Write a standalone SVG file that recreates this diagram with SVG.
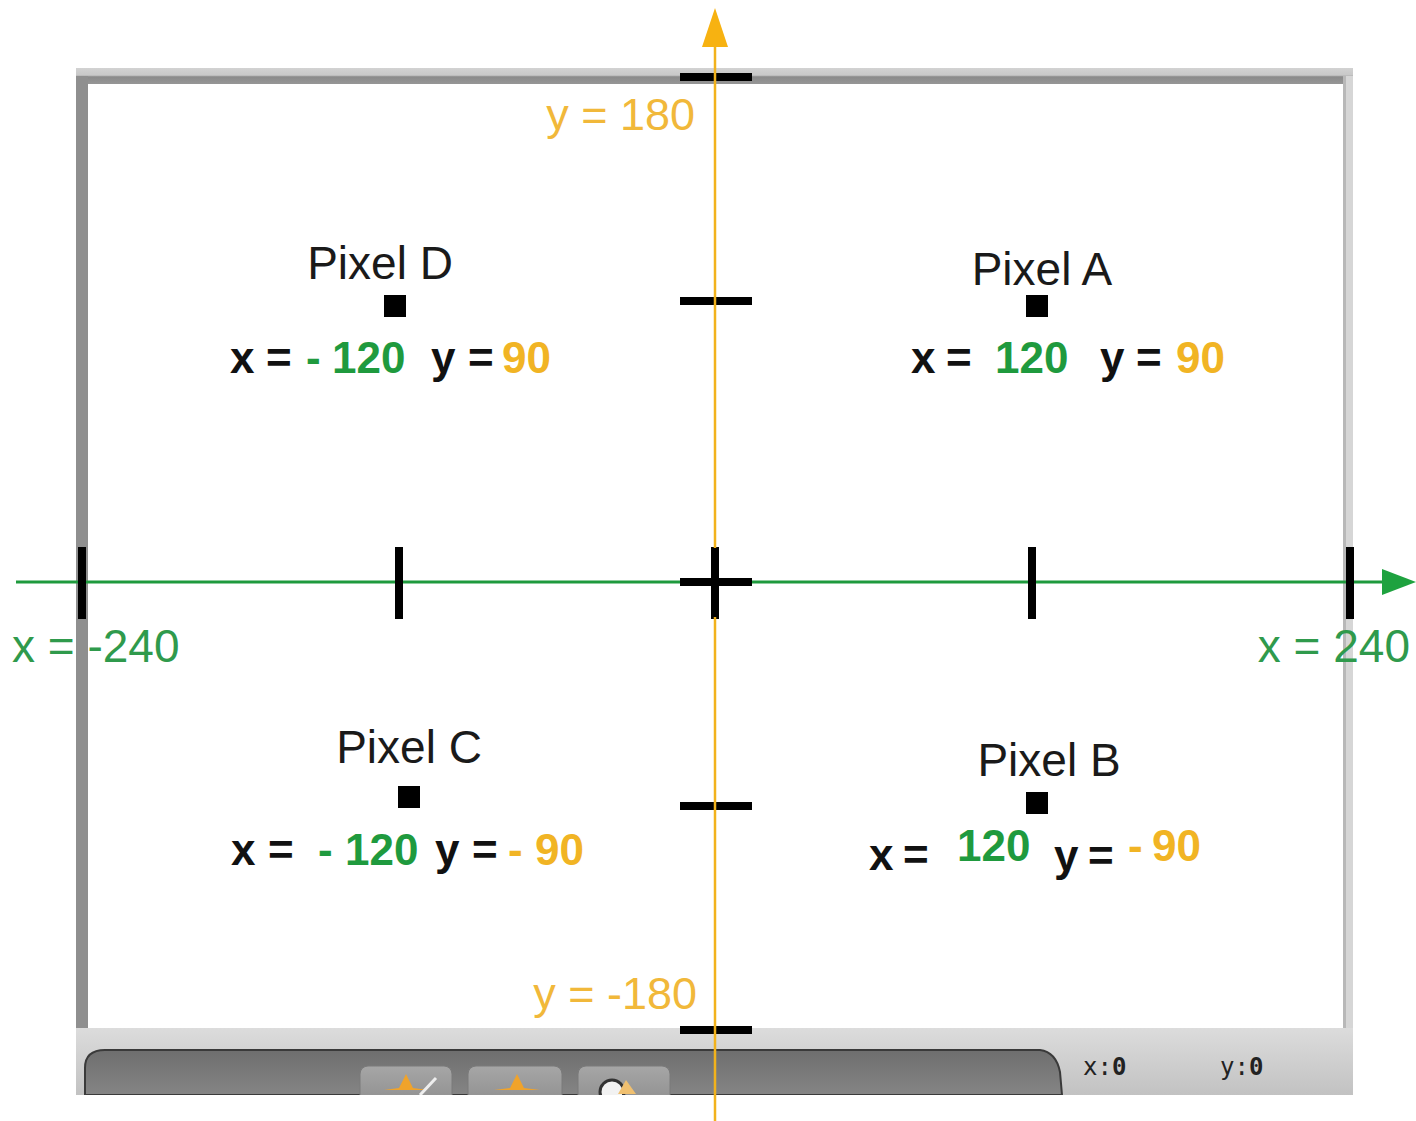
<svg xmlns="http://www.w3.org/2000/svg" width="1416" height="1121" viewBox="0 0 1416 1121">
<style>
.lbl{font-family:"Liberation Sans",Arial,sans-serif;font-size:46px;fill:#1a1a1a}
.bold{font-family:"Liberation Sans",Arial,sans-serif;font-size:44px;font-weight:bold;fill:#111}
.g{fill:#1f9a3e}
.o{fill:#f1b424}
.axg{font-family:"Liberation Sans",Arial,sans-serif;font-size:46px;fill:#2f9a4c}
.axo{font-family:"Liberation Sans",Arial,sans-serif;font-size:45px;fill:#f1b83a}
.tick{stroke:#000;stroke-width:8;fill:none}
.px{fill:#000}
.coord{font-family:"DejaVu Sans Mono",monospace;font-size:24px;fill:#222}
</style>
<defs>
<linearGradient id="topbar" x1="0" y1="0" x2="0" y2="1">
<stop offset="0" stop-color="#d2d2d2"/><stop offset="0.45" stop-color="#c8c8c8"/><stop offset="0.55" stop-color="#8a8a8a"/><stop offset="1" stop-color="#969696"/>
</linearGradient>
<linearGradient id="botbar" x1="0" y1="0" x2="0" y2="1">
<stop offset="0" stop-color="#dcdcdc"/><stop offset="1" stop-color="#c2c2c2"/>
</linearGradient>
<linearGradient id="panel" x1="0" y1="0" x2="0" y2="1">
<stop offset="0" stop-color="#6e6e6e"/><stop offset="1" stop-color="#858585"/>
</linearGradient>
<linearGradient id="btn" x1="0" y1="0" x2="0" y2="1">
<stop offset="0" stop-color="#a6a6a6"/><stop offset="1" stop-color="#8e8e8e"/>
</linearGradient>
</defs>
<rect width="1416" height="1121" fill="#fff"/>

<g id="stage">
<rect x="76" y="68" width="1277" height="1027" fill="#fff"/>
<rect x="76" y="68" width="1277" height="16" fill="url(#topbar)"/>
<rect x="76" y="76" width="12" height="960" fill="#8f8f8f"/>
<rect x="1343" y="76" width="10" height="960" fill="#d6d6d6"/>
<rect x="1343" y="76" width="3" height="960" fill="#b8b8b8"/>
<rect x="76" y="1028" width="1277" height="67" fill="url(#botbar)"/>
<path d="M85 1095 L85 1068 Q85 1050 105 1050 L1040 1050 Q1056 1052 1060 1072 L1062 1095 Z" fill="url(#panel)" stroke="#3a3a3a" stroke-width="2"/>
<g id="buttons">
<rect x="360" y="1066" width="92" height="40" rx="8" fill="url(#btn)" stroke="#7a7a7a"/>
<rect x="468" y="1066" width="94" height="40" rx="8" fill="url(#btn)" stroke="#7a7a7a"/>
<rect x="578" y="1066" width="92" height="40" rx="8" fill="url(#btn)" stroke="#7a7a7a"/>
<path d="M406 1074 L413 1088 L428 1090 L384 1090 L399 1088 Z" fill="#f0a32a"/>
<path d="M420 1095 L436 1078" stroke="#eeeeee" stroke-width="3"/>
<path d="M517 1074 L524 1088 L540 1090 L494 1090 L510 1088 Z" fill="#f0a32a"/>
<circle cx="612" cy="1092" r="12" fill="#f2f2f2" stroke="#333" stroke-width="3"/>
<path d="M626 1080 L636 1094 L618 1094 Z" fill="#f0c070"/>
</g>
<text class="coord" x="1083" y="1075">x:<tspan font-weight="bold">0</tspan></text>
<text class="coord" x="1220" y="1075">y:<tspan font-weight="bold">0</tspan></text>
<rect x="0" y="1095" width="1416" height="26" fill="#fff"/>
</g>

<g id="connectors">
<g id="x-axis">
<line x1="16" y1="582" x2="1386" y2="582" stroke="#1e9a3d" stroke-width="3"/>
<path d="M1382 569 L1416 582 L1382 595 Z" fill="#1ea23f"/>
</g>
<g id="ticks">
<line class="tick" x1="82" y1="547" x2="82" y2="619"/>
<line class="tick" x1="399" y1="547" x2="399" y2="619"/>
<line class="tick" x1="1032" y1="547" x2="1032" y2="619"/>
<line class="tick" x1="1350" y1="547" x2="1350" y2="619"/>
<line class="tick" x1="680" y1="582" x2="752" y2="582"/>
<line class="tick" x1="715" y1="547" x2="715" y2="619"/>
<line class="tick" x1="680" y1="77" x2="752" y2="77"/>
<line class="tick" x1="680" y1="301" x2="752" y2="301"/>
<line class="tick" x1="680" y1="806" x2="752" y2="806"/>
<line class="tick" x1="680" y1="1030" x2="752" y2="1030"/>
</g>
<g id="y-axis">
<line x1="715" y1="40" x2="715" y2="548" stroke="#f2b21c" stroke-width="2.5"/>
<line x1="715" y1="617" x2="715" y2="1121" stroke="#f2b21c" stroke-width="2.5"/>
<path d="M702 47 L715 8 L728 47 Z" fill="#f7b211"/>
</g>
</g>

<g id="axis-labels">
<text class="axo" x="695" y="130" text-anchor="end">y = 180</text>
<text class="axo" x="697" y="1009" text-anchor="end">y = -180</text>
<text class="axg" x="12" y="662">x = -240</text>
<text class="axg" x="1410" y="662" text-anchor="end">x = 240</text>
</g>

<g id="pixel-d">
<text class="lbl" x="380" y="279" text-anchor="middle">Pixel D</text>
<rect class="px" x="384" y="295" width="22" height="22"/>
<text class="bold" x="230" y="373">x</text>
<text class="bold" x="266" y="373">=</text>
<text class="bold g" x="306" y="373">-</text>
<text class="bold g" x="332" y="373">120</text>
<text class="bold" x="431" y="373">y</text>
<text class="bold" x="468" y="373">=</text>
<text class="bold o" x="502" y="373">90</text>
</g>

<g id="pixel-a">
<text class="lbl" x="1042" y="285" text-anchor="middle">Pixel A</text>
<rect class="px" x="1026" y="295" width="22" height="22"/>
<text class="bold" x="911" y="373">x</text>
<text class="bold" x="946" y="373">=</text>
<text class="bold g" x="995" y="373">120</text>
<text class="bold" x="1100" y="373">y</text>
<text class="bold" x="1136" y="373">=</text>
<text class="bold o" x="1176" y="373">90</text>
</g>

<g id="pixel-c">
<text class="lbl" x="409" y="763" text-anchor="middle">Pixel C</text>
<rect class="px" x="398" y="786" width="22" height="22"/>
<text class="bold" x="231" y="865">x</text>
<text class="bold" x="268" y="865">=</text>
<text class="bold g" x="318" y="865">-</text>
<text class="bold g" x="345" y="865">120</text>
<text class="bold" x="435" y="865">y</text>
<text class="bold" x="472" y="865">=</text>
<text class="bold o" x="508" y="865">-</text>
<text class="bold o" x="535" y="865">90</text>
</g>

<g id="pixel-b">
<text class="lbl" x="1049" y="776" text-anchor="middle">Pixel B</text>
<rect class="px" x="1026" y="792" width="22" height="22"/>
<text class="bold" x="869" y="870">x</text>
<text class="bold" x="903" y="870">=</text>
<text class="bold g" x="957" y="861">120</text>
<text class="bold" x="1054" y="871">y</text>
<text class="bold" x="1088" y="871">=</text>
<text class="bold o" x="1128" y="861">-</text>
<text class="bold o" x="1152" y="861">90</text>
</g>
</svg>
